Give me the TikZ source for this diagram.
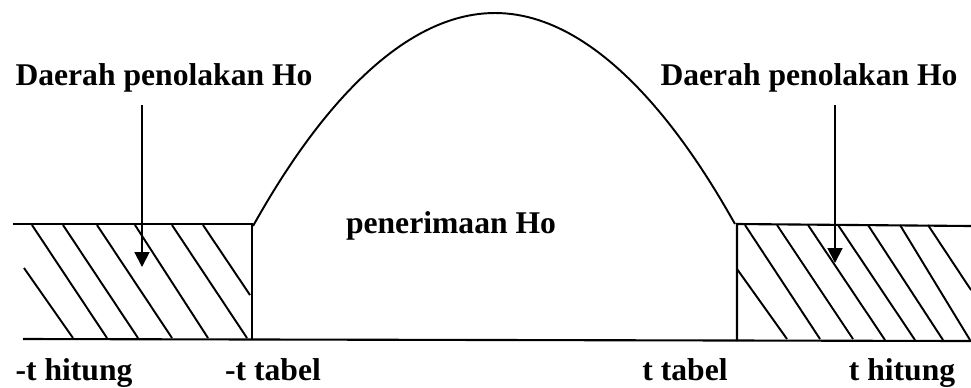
\documentclass[tikz,border=0pt]{standalone}
\usepackage{fontspec}
\setmainfont{Liberation Serif}
\usepackage{tikz}
\usetikzlibrary{arrows.meta}
\tikzset{
  >={Triangle[width=8.5pt,length=8.5pt]},
  edge/.style={line width=1.2pt,draw=black},
  hatch/.style={line width=1.1pt,draw=black},
  curve/.style={line width=1.1pt,draw=black},
  pointer/.style={->,line width=1.1pt,draw=black},
  lab/.style={font=\fontsize{18}{20}\selectfont\bfseries,inner sep=0pt,anchor=base}
}
\begin{document}
\begin{tikzpicture}[x=.02cm,y=-.02cm]
        \useasboundingbox (0,0) rectangle (971,387);

        % labels
        \node[lab] (tolakL) at (164,85) {Daerah penolakan Ho};
        \node[lab] (tolakR) at (809,85) {Daerah penolakan Ho};
        \node[lab] (terima) at (451,233) {penerimaan Ho};
        \node[lab] (hitL) at (74,380) {-t hitung};
        \node[lab] (tabL) at (273,380) {-t tabel};
        \node[lab] (tabR) at (685,380) {t tabel};
        \node[lab] (hitR) at (902,380) {t hitung};

        % frame of the two tails
        \draw[edge] (13,224) -- (252,224) -- (252,339);
        \draw[edge] (971,226) -- (737,224) -- (737,341);
        \draw[edge] (23,339) -- (971,341);

        % acceptance curve
        \draw[curve] (253,226) parabola bend (495,13) (735,224);

        % hatching
        \foreach \xa/\ya/\xb/\yb in {24/268/73/338,32/225/107/338,63/225/138/338,
            97/225/172/338,135/225/208/338,172/225/247/338,203/225/250/295}
          \draw[hatch] (\xa,\ya) -- (\xb,\yb);
        \foreach \xa/\ya/\xb/\yb in {737/269/787/339,745/225/820/339,777/225/853/339,
            808/225/885/340,838/225/915/340,868/225/943/340,900/225/970/340,928/225/971/290}
          \draw[hatch] (\xa,\ya) -- (\xb,\yb);

        % pointers
        \coordinate (pL0) at (142,105);
        \coordinate (pL1) at (142,267);
        \coordinate (pR0) at (835,105);
        \coordinate (pR1) at (835,263);
        \draw[pointer] (pL0) -- (pL1);
        \draw[pointer] (pR0) -- (pR1);
      \end{tikzpicture}
\end{document}
